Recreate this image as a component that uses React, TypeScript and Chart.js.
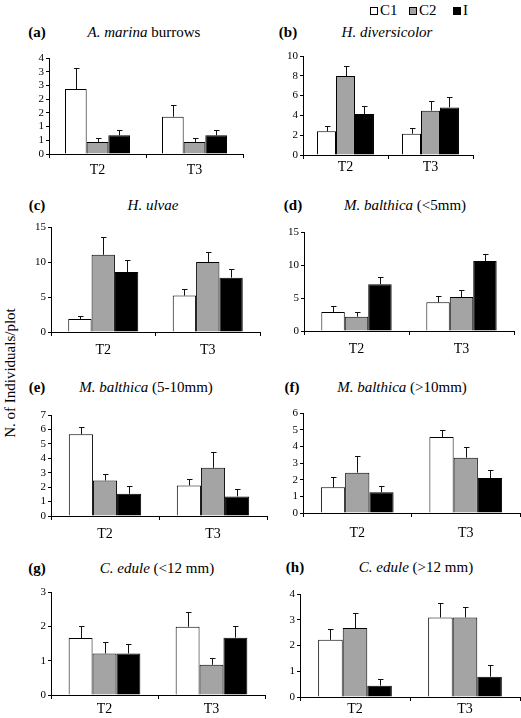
import React, { useEffect, useRef } from "react";
import { Chart, registerables } from "chart.js";

Chart.register(...registerables);

const categories = ["T2", "T3"];
const seriesLabels = ["C1", "C2", "I"];
const seriesColors = ["#ffffff", "#a4a4a4", "#000000"];

// (a) A. marina burrows
const aC1 = [2.37, 1.36];
const aC2 = [0.44, 0.44];
const aI = [0.68, 0.68];
const aC1Se = [0.77, 0.42];
const aC2Se = [0.14, 0.14];
const aISe = [0.21, 0.21];

// (b) H. diversicolor
const bC1 = [2.39, 2.15];
const bC2 = [7.98, 4.48];
const bI = [4.14, 4.81];
const bC1Se = [0.51, 0.61];
const bC2Se = [1.04, 0.94];
const bISe = [0.78, 1.05];

// (c) H. ulvae
const cC1 = [1.85, 5.2];
const cC2 = [11.03, 9.99];
const cI = [8.57, 7.76];
const cC1Se = [0.5, 0.95];
const cC2Se = [2.5, 1.5];
const cISe = [1.75, 1.25];

// (d) M. balthica (<5mm)
const dC1 = [2.88, 4.34];
const dC2 = [2.17, 5.15];
const dI = [7.07, 10.6];
const dC1Se = [0.91, 0.96];
const dC2Se = [0.71, 1.01];
const dISe = [1.16, 1.1];

// (e) M. balthica (5-10mm)
const eC1 = [5.66, 2.12];
const eC2 = [2.46, 3.34];
const eI = [1.54, 1.36];
const eC1Se = [0.53, 0.46];
const eC2Se = [0.46, 1.13];
const eISe = [0.53, 0.48];

// (f) M. balthica (>10mm)
const fC1 = [1.54, 4.56];
const fC2 = [2.42, 3.32];
const fI = [1.24, 2.1];
const fC1Se = [0.62, 0.44];
const fC2Se = [0.98, 0.62];
const fISe = [0.38, 0.48];

// (g) C. edule (<12 mm)
const gC1 = [1.66, 1.99];
const gC2 = [1.21, 0.88];
const gI = [1.21, 1.67];
const gC1Se = [0.34, 0.42];
const gC2Se = [0.33, 0.21];
const gISe = [0.29, 0.33];

// (h) C. edule (>12 mm)
const hC1 = [2.22, 3.09];
const hC2 = [2.68, 3.09];
const hI = [0.44, 0.79];
const hC1Se = [0.42, 0.55];
const hC2Se = [0.58, 0.39];
const hISe = [0.27, 0.44];

const SERIF = "'Liberation Serif', 'Times New Roman', serif";

const errorBarPlugin = {
  id: "errorBars",
  afterDatasetsDraw(chart: any) {
    const ctx = chart.ctx;
    const yScale = chart.scales.y;
    ctx.save();
    ctx.strokeStyle = "#111";
    ctx.lineWidth = 1;
    chart.data.datasets.forEach((ds: any, i: number) => {
      const meta = chart.getDatasetMeta(i);
      meta.data.forEach((bar: any, j: number) => {
        const v = ds.data[j];
        const e = ds.errors[j];
        const x = Math.round(bar.x) + 0.5;
        const yTopPx = Math.round(yScale.getPixelForValue(v + e)) + 0.5;
        ctx.beginPath();
        ctx.moveTo(x, bar.y);
        ctx.lineTo(x, yTopPx);
        ctx.moveTo(x - 2.5, yTopPx);
        ctx.lineTo(x + 3, yTopPx);
        ctx.stroke();
      });
    });
    ctx.restore();
  },
};

type PanelDef = {
  means: number[][];
  ses: number[][];
  max: number;
  step: number;
  roundLabels?: boolean;
  x0: number;
  x1: number;
  yTop: number;
  yZero: number;
  labelPad: number;
};

const panels: PanelDef[] = [
  { means: [aC1, aC2, aI], ses: [aC1Se, aC2Se, aISe], max: 3.5, step: 0.5, roundLabels: true, x0: 49, x1: 243, yTop: 58, yZero: 153.7, labelPad: 4 },
  { means: [bC1, bC2, bI], ses: [bC1Se, bC2Se, bISe], max: 10, step: 2, x0: 302.7, x1: 473.3, yTop: 55.7, yZero: 154.7, labelPad: 0 },
  { means: [cC1, cC2, cI], ses: [cC1Se, cC2Se, cISe], max: 15, step: 5, x0: 50.7, x1: 260, yTop: 226.7, yZero: 332.3, labelPad: 6 },
  { means: [dC1, dC2, dI], ses: [dC1Se, dC2Se, dISe], max: 15, step: 5, x0: 304.3, x1: 513.7, yTop: 232.3, yZero: 331.3, labelPad: 6 },
  { means: [eC1, eC2, eI], ses: [eC1Se, eC2Se, eISe], max: 7, step: 1, x0: 50.7, x1: 266.5, yTop: 415, yZero: 516.3, labelPad: 6 },
  { means: [fC1, fC2, fI], ses: [fC1Se, fC2Se, fISe], max: 6, step: 1, x0: 302.7, x1: 519.5, yTop: 413.3, yZero: 513.3, labelPad: 8 },
  { means: [gC1, gC2, gI], ses: [gC1Se, gC2Se, gISe], max: 3, step: 1, x0: 50.7, x1: 265.3, yTop: 592.3, yZero: 695.3, labelPad: 2 },
  { means: [hC1, hC2, hI], ses: [hC1Se, hC2Se, hISe], max: 4, step: 1, x0: 300, x1: 520, yTop: 594.3, yZero: 697, labelPad: 0 },
];

const WY = 30;
const PAD_TOP = 8;
const HX = 34;

function Panel({ p }: { p: PanelDef }) {
  const ref = useRef<HTMLCanvasElement | null>(null);
  const left = Math.round(p.x0) - WY;
  const top = Math.round(p.yTop) - PAD_TOP;
  const padRight = 1;
  const width = Math.round(p.x1) - Math.round(p.x0) + WY + padRight;
  const height = Math.round(p.yZero) - Math.round(p.yTop) + PAD_TOP + HX;

  useEffect(() => {
    if (!ref.current) return;
    const chart = new Chart(ref.current, {
      type: "bar",
      data: {
        labels: categories,
        datasets: seriesLabels.map((name, i) => ({
          label: name,
          data: p.means[i],
          errors: p.ses[i],
          backgroundColor: seriesColors[i],
          borderColor: "#000",
          borderWidth: 1,
          categoryPercentage: 0.67,
          barPercentage: 1.0,
        })) as any,
      },
      options: {
        animation: false,
        responsive: false,
        maintainAspectRatio: false,
        devicePixelRatio: 1,
        layout: { padding: { top: PAD_TOP, right: padRight, left: 0, bottom: 0 } },
        plugins: { legend: { display: false }, tooltip: { enabled: false }, title: { display: false } },
        scales: {
          x: {
            grid: { display: true, drawOnChartArea: false, drawTicks: true, tickLength: 4, color: "#000", offset: true },
            border: { display: true, color: "#000", width: 1 },
            ticks: { color: "#000", font: { family: SERIF, size: 14 }, padding: p.labelPad, maxRotation: 0, autoSkip: false },
            afterFit: (s: any) => { s.height = HX; },
          },
          y: {
            min: 0,
            max: p.max,
            grid: { display: true, drawOnChartArea: false, drawTicks: true, tickLength: 3, color: "#000" },
            border: { display: true, color: "#000", width: 1 },
            ticks: {
              stepSize: p.step,
              autoSkip: false,
              color: "#000",
              padding: 2,
              font: { family: SERIF, size: 11, lineHeight: 1 },
              callback: (v: any) => (p.roundLabels ? String(Math.round(Number(v))) : String(v)),
            },
            afterFit: (s: any) => { s.width = WY; },
          },
        },
      } as any,
      plugins: [errorBarPlugin],
    });
    return () => chart.destroy();
  }, []);

  return (
    <canvas
      ref={ref}
      width={width}
      height={height}
      style={{ position: "absolute", left, top, width, height }}
    />
  );
}

const textBase: React.CSSProperties = {
  position: "absolute",
  transform: "translate(-50%, -50%)",
  whiteSpace: "nowrap",
  fontFamily: SERIF,
  fontSize: 15,
  lineHeight: 1,
  color: "#000",
};

const panelLetters = [
  { t: "(a)", x: 37, y: 32 },
  { t: "(b)", x: 288, y: 32 },
  { t: "(c)", x: 37, y: 205 },
  { t: "(d)", x: 293, y: 205 },
  { t: "(e)", x: 37, y: 387 },
  { t: "(f)", x: 292, y: 387 },
  { t: "(g)", x: 37, y: 568 },
  { t: "(h)", x: 295, y: 567 },
];

const titles: { it: string; rest: string; x: number; y: number }[] = [
  { it: "A. marina", rest: " burrows", x: 144, y: 32 },
  { it: "H. diversicolor", rest: "", x: 387, y: 32 },
  { it: "H. ulvae", rest: "", x: 153, y: 205 },
  { it: "M. balthica", rest: " (<5mm)", x: 405, y: 205 },
  { it: "M. balthica", rest: " (5-10mm)", x: 146, y: 387 },
  { it: "M. balthica", rest: " (>10mm)", x: 402, y: 387 },
  { it: "C. edule", rest: " (<12 mm)", x: 157, y: 568 },
  { it: "C. edule", rest: " (>12 mm)", x: 416, y: 567 },
];

const legendPos = [370, 409, 453];

export default function App() {
  return (
    <div style={{ position: "absolute", left: 0, top: 0, width: 521, height: 718, overflow: "hidden", background: "#fff" }}>
      {panels.map((p, i) => (
        <Panel key={i} p={p} />
      ))}
      {panelLetters.map((l, i) => (
        <div key={"l" + i} style={{ ...textBase, left: l.x, top: l.y, fontWeight: "bold" }}>{l.t}</div>
      ))}
      {titles.map((t, i) => (
        <div key={"t" + i} style={{ ...textBase, left: t.x, top: t.y }}>
          <i>{t.it}</i>{t.rest}
        </div>
      ))}
      <div style={{ ...textBase, left: 10, top: 373, transform: "translate(-50%, -50%) rotate(-90deg)" }}>
        N. of Individuals/plot
      </div>
      {seriesLabels.map((s, i) => (
        <div key={s} style={{ position: "absolute", left: legendPos[i], top: 3, display: "flex", alignItems: "center", fontFamily: SERIF, fontSize: 15, lineHeight: "15px", whiteSpace: "nowrap" }}>
          <span style={{ display: "inline-block", width: 6, height: 6, border: "1px solid #000", background: seriesColors[i], marginRight: 2 }} />
          {s}
        </div>
      ))}
    </div>
  );
}
